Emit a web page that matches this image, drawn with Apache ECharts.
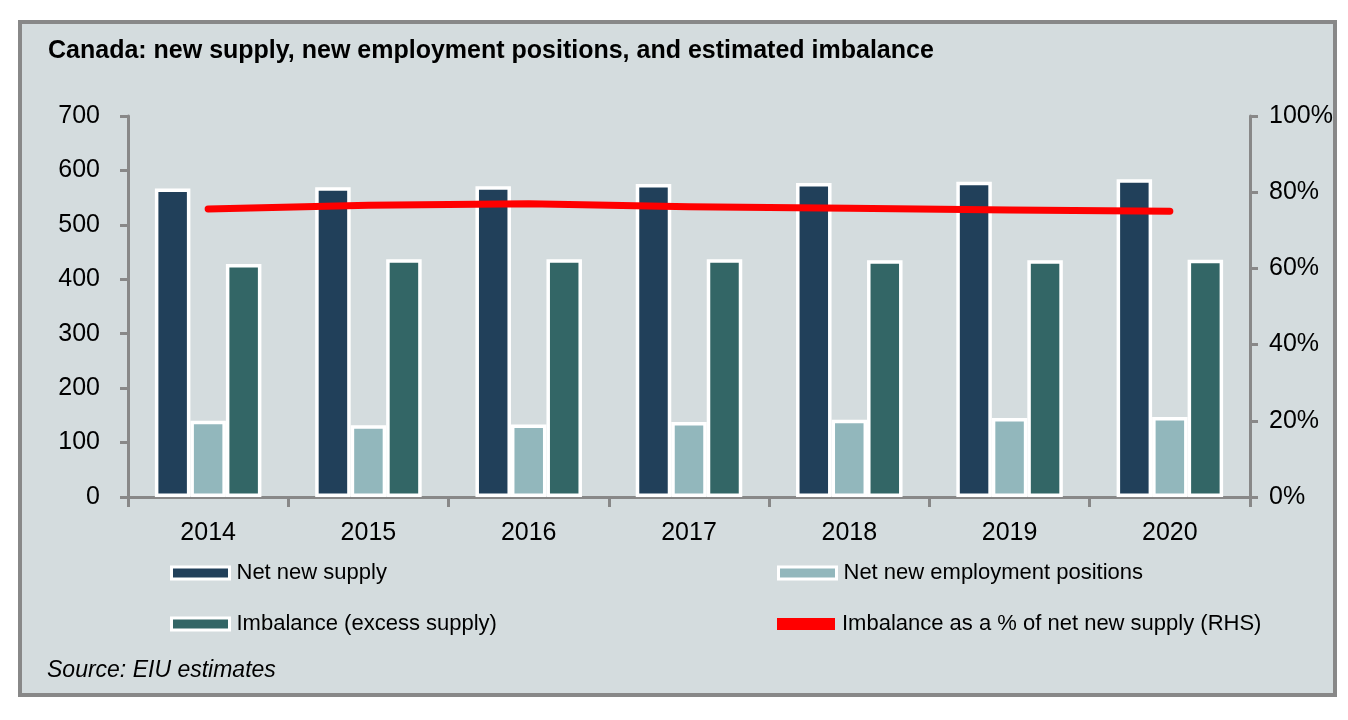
<!DOCTYPE html>
<html>
<head>
<meta charset="utf-8">
<script src="https://cdn.jsdelivr.net/npm/echarts@6/dist/echarts.min.js"></script>
<style>
html,body{margin:0;padding:0;background:#fff;}
#c{width:1348px;height:720px;}
</style>
</head>
<body>
<div id="c"></div>
<script>
const years = ['2014','2015','2016','2017','2018','2019','2020'];
const netNewSupply = [567, 569, 571, 575, 577, 579, 584];
const netNewEmployment = [140, 132, 133, 138, 142, 145, 147];
const imbalance = [428, 437, 437, 437, 435, 435, 436];
const imbalancePct = [75.6, 76.6, 77.0, 76.2, 75.8, 75.3, 75.0];
const leftTicks = [0, 100, 200, 300, 400, 500, 600, 700];
const rightTicks = [0, 20, 40, 60, 80, 100];

const FONT = '"Liberation Sans Narrow", "Arial Narrow", "Liberation Sans", Arial, sans-serif';
const AX = '#888888';
const BG = '#d4dcde';

const chart = echarts.init(document.getElementById('c'));
const barBase = {type:'bar', barWidth:35.5, barGap:'0%'};
const legendBase = (name, left, top) => ({
  data:[name], left:left, top:top, padding:0, itemWidth:58, itemHeight:12,
  icon:'rect', selectedMode:false,
  itemStyle:{borderColor:'#fff', borderWidth:3},
  textStyle:{fontFamily:FONT, fontSize:22, color:'#000', padding:[0,0,0,2]}
});
chart.setOption({
  backgroundColor:'#fff',
  animation:false,
  graphic:[{type:'rect', z:-10, silent:true, shape:{x:20, y:22, width:1315, height:673},
    style:{fill:BG, stroke:AX, lineWidth:4}}],
  title:[
    {text:'Canada: new supply, new employment positions, and estimated imbalance', left:43, top:34,
     textStyle:{fontFamily:FONT, fontSize:25, fontWeight:'bold', color:'#000'}},
    {text:'Source: EIU estimates', left:42, top:654,
     textStyle:{fontFamily:FONT, fontSize:23, fontStyle:'italic', fontWeight:'normal', color:'#000'}}
  ],
  legend:[
    legendBase('Net new supply', 170, 562),
    legendBase('Net new employment positions', 777, 562),
    legendBase('Imbalance (excess supply)', 170, 613),
    Object.assign(legendBase('Imbalance as a % of net new supply (RHS)', 777, 613), {itemStyle:{color:'#ff0000', borderWidth:0}})
  ],
  grid:{left:128, right:98, top:116, bottom:223, containLabel:false},
  xAxis:{type:'category', data:years,
    axisLine:{lineStyle:{color:AX, width:3}},
    axisTick:{show:true, length:10, lineStyle:{color:AX, width:3}},
    axisLabel:{fontFamily:FONT, fontSize:25, color:'#000', margin:24}},
  yAxis:[
    {type:'value', min:leftTicks[0], max:leftTicks[leftTicks.length-1], interval:100,
     axisLine:{show:true, lineStyle:{color:AX, width:3}},
     axisTick:{show:true, length:8, lineStyle:{color:AX, width:3}},
     splitLine:{show:false},
     axisLabel:{fontFamily:FONT, fontSize:25, color:'#000', margin:28}},
    {type:'value', min:rightTicks[0], max:rightTicks[rightTicks.length-1], interval:20, position:'right',
     axisLine:{show:true, lineStyle:{color:AX, width:3}},
     axisTick:{show:true, length:8, lineStyle:{color:AX, width:3}},
     splitLine:{show:false},
     axisLabel:{fontFamily:FONT, fontSize:25, color:'#000', margin:19, formatter:'{value}%'}}
  ],
  series:[
    Object.assign({}, barBase, {name:'Net new supply', data:netNewSupply, itemStyle:{color:'#21405a', borderColor:'#fff', borderWidth:3.5}}),
    Object.assign({}, barBase, {name:'Net new employment positions', data:netNewEmployment, itemStyle:{color:'#92b7bc', borderColor:'#fff', borderWidth:3.5}}),
    Object.assign({}, barBase, {name:'Imbalance (excess supply)', data:imbalance, itemStyle:{color:'#336666', borderColor:'#fff', borderWidth:3.5}}),
    {type:'line', name:'Imbalance as a % of net new supply (RHS)', yAxisIndex:1, data:imbalancePct,
     showSymbol:false, symbol:'none', itemStyle:{color:'#ff0000'},
     lineStyle:{color:'#ff0000', width:7, cap:'round', join:'round'}, z:5}
  ]
});
</script>
</body>
</html>
